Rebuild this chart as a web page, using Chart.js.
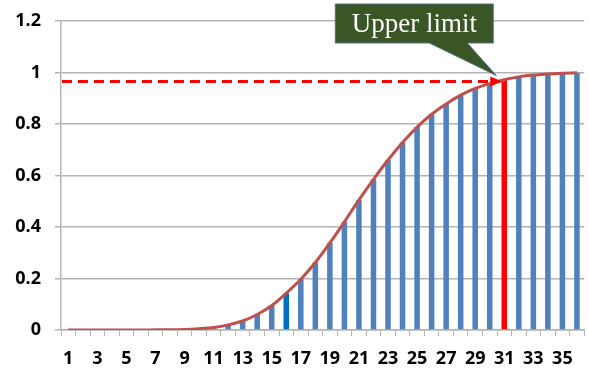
<!DOCTYPE html>
<html>
<head>
<meta charset="utf-8">
<script src="https://cdn.jsdelivr.net/npm/chart.js@4"></script>
<style>
  html, body { margin: 0; padding: 0; background: #fff; }
  #wrap { width: 589px; height: 370px; position: relative; }
</style>
</head>
<body>
<div id="wrap"><canvas id="cdf"></canvas></div>
<script>
/* cumulative curve with upper limit marker */
const categories = Array.from({ length: 36 }, (_, i) => String(i + 1));

const cumValues = [
  0, 0, 0, 0, 0, 0, 0.0005, 0.001, 0.002, 0.005,
  0.01, 0.02, 0.035, 0.06, 0.095, 0.143, 0.197, 0.262, 0.338, 0.42,
  0.505, 0.585, 0.66, 0.728, 0.788, 0.838, 0.878, 0.912, 0.938, 0.957,
  0.972, 0.983, 0.99, 0.994, 0.997, 0.999,
];

const yTicks = [0, 0.2, 0.4, 0.6, 0.8, 1, 1.2];

const highlightCat = '16';
const limitCat = '31';
const limitValue = 0.965;
const calloutText = 'Upper limit';

const BAR = '#4f81bd';
const BAR_HL = '#0070c0';
const LIMIT = '#ff0000';
const CURVE = '#c0504d';
const GRID = '#b4b4b4';

const barColors = categories.map(c =>
  c === limitCat ? LIMIT : c === highlightCat ? BAR_HL : BAR);

const limitPlugin = {
  id: 'limit',
  afterDatasetsDraw(chart) {
    const { ctx, chartArea } = chart;
    const x = chart.scales.x, y = chart.scales.y;
    const idx = categories.indexOf(limitCat);
    const yy = y.getPixelForValue(limitValue);
    const tipX = x.getPixelForValue(idx) - 2;

    // dashed line with arrow
    ctx.save();
    ctx.strokeStyle = LIMIT;
    ctx.lineWidth = 3;
    ctx.setLineDash([10, 6]);
    ctx.beginPath();
    ctx.moveTo(chartArea.left + 1, yy);
    ctx.lineTo(tipX - 10, yy);
    ctx.stroke();
    ctx.setLineDash([]);
    ctx.fillStyle = LIMIT;
    ctx.beginPath();
    ctx.moveTo(tipX, yy);
    ctx.lineTo(tipX - 12, yy - 5);
    ctx.lineTo(tipX - 12, yy + 5);
    ctx.closePath();
    ctx.fill();

    // callout
    const px = x.getPixelForValue(idx) - 8;
    const py = y.getPixelForValue(1) + 3;
    const left = px - 161, right = px - 3, top = 4, bottom = 43;
    ctx.fillStyle = '#3a5624';
    ctx.strokeStyle = '#56708a';
    ctx.lineWidth = 1;
    ctx.beginPath();
    ctx.moveTo(left, top);
    ctx.lineTo(right, top);
    ctx.lineTo(right, bottom);
    ctx.lineTo(px - 29, bottom);
    ctx.lineTo(px, py);
    ctx.lineTo(px - 67, bottom);
    ctx.lineTo(left, bottom);
    ctx.closePath();
    ctx.fill();
    ctx.stroke();
    ctx.fillStyle = '#ffffff';
    ctx.font = "27px 'Liberation Serif'";
    ctx.textAlign = 'center';
    ctx.textBaseline = 'middle';
    ctx.fillText(calloutText, (left + right) / 2, (top + bottom) / 2 + 1);
    ctx.restore();
  },
};

new Chart(document.getElementById('cdf'), {
  type: 'bar',
  data: {
    labels: categories,
    datasets: [
      {
        type: 'line',
        data: cumValues,
        borderColor: CURVE,
        borderWidth: 3,
        pointRadius: 0,
        cubicInterpolationMode: 'monotone',
        order: 1,
      },
      {
        type: 'bar',
        data: cumValues,
        backgroundColor: barColors,
        barPercentage: 0.38,
        categoryPercentage: 1,
        order: 2,
      },
    ],
  },
  options: {
    responsive: true,
    maintainAspectRatio: false,
    animation: false,
    layout: { padding: { top: 0, right: 4, left: 0, bottom: 0 } },
    plugins: { legend: { display: false }, tooltip: { enabled: false } },
    scales: {
      x: {
        grid: { offset: true, drawOnChartArea: false, drawTicks: true, tickLength: 6, color: GRID },
        border: { color: GRID, width: 1.5 },
        ticks: {
          autoSkip: false,
          maxRotation: 0,
          padding: 12,
          color: '#000',
          font: { family: "'Open Sans'", size: 18, weight: 'bold' },
          callback: (v, i) => (i % 2 === 0 ? categories[i] : ''),
        },
        afterFit: s => { s.height = 40; },
      },
      y: {
        min: 0,
        max: 1.2,
        afterBuildTicks: s => { s.ticks = yTicks.map(v => ({ value: v })); },
        grid: { color: GRID, lineWidth: 1.5, tickLength: 6 },
        border: { color: GRID, width: 1.5 },
        ticks: {
          padding: 14,
          color: '#000',
          font: { family: "'Open Sans'", size: 18, weight: 'bold', lineHeight: 1.2 },
          callback: v => String(Math.round(v * 10) / 10),
        },
        afterFit: s => { s.width = 61; s.paddingTop = 21; },
      },
    },
  },
  plugins: [limitPlugin],
});
</script>
</body>
</html>
